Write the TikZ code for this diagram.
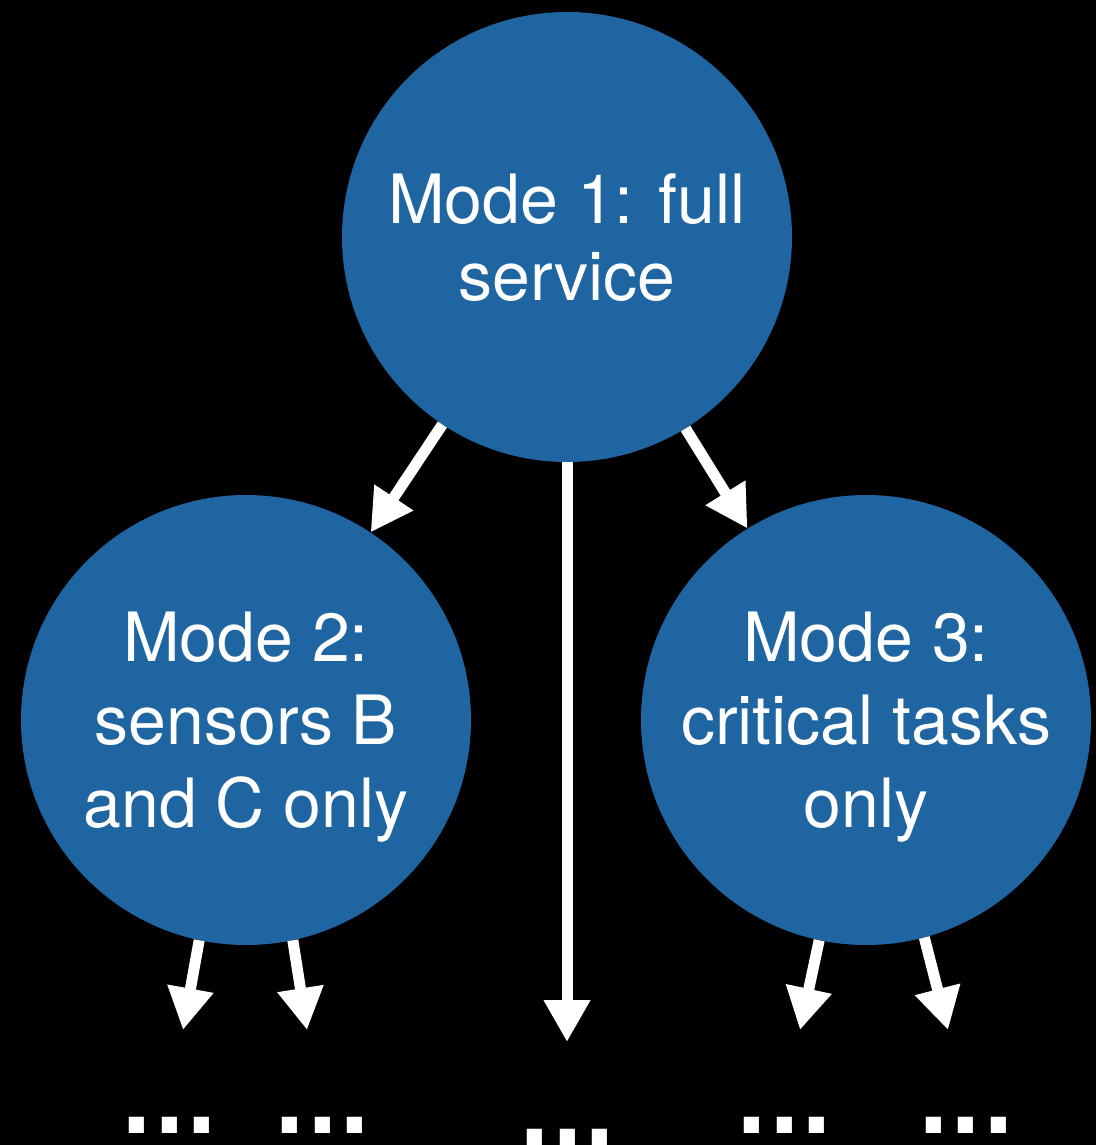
\documentclass[tikz,border=0pt]{standalone}
\usepackage{fontspec}
\setmainfont{TeX Gyre Heros}
\newfontfamily\dotsfont{DejaVu Sans}
\usetikzlibrary{arrows.meta}

\definecolor{modeblue}{RGB}{31,101,161}

\tikzset{
  mode/.style={circle, fill=modeblue, minimum size=450pt, inner sep=0pt,
    align=center, text=white, text depth=0pt,
    font=\fontsize{68}{83}\selectfont},
  flow/.style={draw=white, line width=11pt,
    -{Triangle[width=44pt,length=42pt]}},
  more/.style={text=white, inner sep=0pt, anchor=base,
    font=\dotsfont\bfseries\fontsize{86}{86}\selectfont},
}

\begin{document}
\begin{tikzpicture}[x=1pt,y=-1pt]

% Background
\fill[black] (0,0) rectangle (1096,1145);
\useasboundingbox (0,0) rectangle (1096,1145);

% Modes
\node[mode, font=\fontsize{68}{77}\selectfont] (full) at (567,237) {Mode 1: full\\service};
\node[mode] (sensors) at (246,720) {Mode 2:\\sensors B\\and C only};
\node[mode] (critical) at (866,720) {Mode 3:\\critical tasks\\only};

% Ends of the open branches
\coordinate (mid) at (567,1042);
\coordinate (s1) at (183,1030);
\coordinate (s2) at (307,1030);
\coordinate (c1) at (800,1030);
\coordinate (c2) at (948,1030);

% Further modes, not shown
\node[more] (dotsA) at (169.5,1133) {...};
\node[more] (dotsB) at (322.5,1133) {...};
\node[more] (dotsC) at (567.5,1145) {...};
\node[more] (dotsD) at (784.5,1133) {...};
\node[more] (dotsE) at (966,1133) {...};

% Branches
\draw[flow] (full) -- (sensors);
\draw[flow] (full) -- (critical);
\draw[flow] (full) -- (mid);
\draw[flow] (sensors.258) -- (s1);
\draw[flow] (sensors.282) -- (s2);
\draw[flow] (critical.258) -- (c1);
\draw[flow] (critical.285) -- (c2);

\end{tikzpicture}
\end{document}
